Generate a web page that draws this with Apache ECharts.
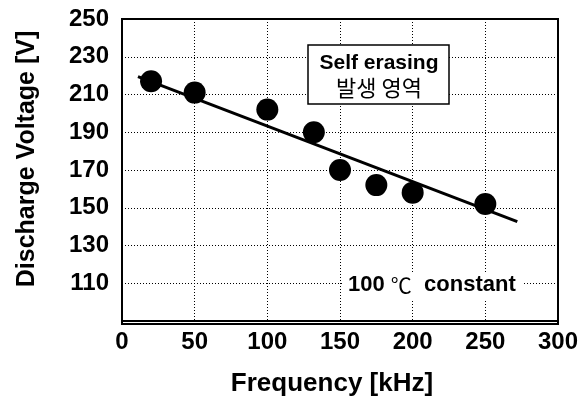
<!DOCTYPE html>
<html>
<head>
<meta charset="utf-8">
<script src="https://cdn.jsdelivr.net/npm/echarts@6/dist/echarts.min.js"></script>
<style>
  html, body { margin: 0; padding: 0; background: #fff; }
  #chart { width: 585px; height: 402px; }
</style>
</head>
<body>
<div id="chart"></div>
<script>
// measured points
const freq = [20, 50, 100, 132, 150, 175, 200, 250]
const voltage = [217, 211, 202, 190, 170, 162, 158, 152]
// fitted line end points
const fitFreq = [11, 272]
const fitVoltage = [219.5, 142.6]
const xTicks = [0, 50, 100, 150, 200, 250, 300]
const yTicks = [110, 130, 150, 170, 190, 210, 230, 250]

const font = '"Liberation Sans", Arial, sans-serif'
const chart = echarts.init(document.getElementById('chart'))

chart.setOption({
  animation: false,
  grid: { left: 122, top: 19, right: 27, bottom: 78 },
  xAxis: {
    type: 'value',
    min: 0,
    max: 300,
    interval: 50,
    name: 'Frequency [kHz]',
    nameLocation: 'middle',
    nameGap: 50,
    nameTextStyle: {
      color: '#000', fontFamily: font, fontWeight: 'bold', fontSize: 26,
      padding: [0, 16, 0, 0]
    },
    axisLine: { show: true, lineStyle: { color: '#000', width: 2 } },
    axisTick: { show: false },
    axisLabel: {
      color: '#000', fontFamily: font, fontWeight: 'bold', fontSize: 24, margin: 9,
      formatter: v => xTicks.includes(v) ? String(v) : ''
    },
    splitLine: { show: true, lineStyle: { color: '#000', type: [1, 2], width: 1 } }
  },
  yAxis: {
    type: 'value',
    min: 90,
    max: 250,
    interval: 20,
    name: 'Discharge Voltage [V]',
    nameLocation: 'middle',
    nameGap: 82,
    nameTextStyle: {
      color: '#000', fontFamily: font, fontWeight: 'bold', fontSize: 25,
      padding: [0, 0, 0, 22]
    },
    axisLine: { show: true, lineStyle: { color: '#000', width: 2 } },
    axisTick: { show: false },
    axisLabel: {
      color: '#000', fontFamily: font, fontWeight: 'bold', fontSize: 24, margin: 13,
      formatter: v => yTicks.includes(v) ? String(v) : ''
    },
    splitLine: { show: true, lineStyle: { color: '#000', type: [1, 2], width: 1 } }
  },
  graphic: [
    {
      type: 'rect',
      shape: { x: 122, y: 19, width: 436, height: 305 },
      style: { fill: 'none', stroke: '#000', lineWidth: 2 },
      silent: true,
      z: 10
    },
    {
      type: 'rect',
      shape: { x: 308, y: 45, width: 141, height: 59 },
      style: { fill: '#fff', stroke: '#000', lineWidth: 1.5 },
      z: 20
    },
    {
      type: 'text',
      x: 379, y: 63,
      style: {
        text: 'Self erasing', fill: '#000', align: 'center', verticalAlign: 'middle',
        font: 'bold 21px ' + font
      },
      z: 21
    },
    {
      type: 'text',
      x: 379, y: 88,
      style: {
        text: '발생 영역', fill: '#000', align: 'center', verticalAlign: 'middle',
        font: '22px "Noto Sans CJK KR"'
      },
      z: 21
    },
    {
      type: 'rect',
      shape: { x: 342, y: 272, width: 182, height: 27 },
      style: { fill: '#fff' },
      z: 20
    },
    {
      type: 'text',
      x: 348, y: 285,
      style: {
        rich: {
          n: { font: 'bold 22px ' + font, fill: '#000' },
          c: { font: '21px "Noto Sans CJK KR"', fill: '#000' }
        },
        text: '{n|100 }{c|℃}{n|  constant}', verticalAlign: 'middle'
      },
      z: 21
    }
  ],
  series: [
    {
      type: 'line',
      data: fitFreq.map((f, i) => [f, fitVoltage[i]]),
      showSymbol: false,
      lineStyle: { color: '#000', width: 3 },
      z: 3
    },
    {
      type: 'scatter',
      data: freq.map((f, i) => [f, voltage[i]]),
      symbol: 'circle',
      symbolSize: 22,
      itemStyle: { color: '#000', opacity: 1 },
      z: 4
    }
  ]
})
</script>
</body>
</html>
